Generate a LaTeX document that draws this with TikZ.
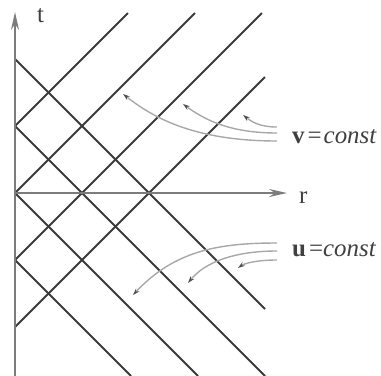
\documentclass[tikz,border=0pt]{standalone}
\usepackage{fontspec}
\setmainfont{Liberation Serif}
\usetikzlibrary{arrows.meta}
\definecolor{gridc}{HTML}{3A3A3A}
\definecolor{axisc}{HTML}{7C7C7C}
\definecolor{curvec}{HTML}{A8A8A8}
\definecolor{tipc}{HTML}{505050}
\definecolor{textc}{HTML}{404040}
\tikzset{
  gridline/.style={draw=gridc, line width=1.8bp},
  axisline/.style={draw=axisc, line width=2bp, -{Stealth[length=18bp,width=8bp,inset=6bp,color=axisc]}},
  pointer/.style={draw=curvec, line width=1.4bp, -{Stealth[length=7bp,width=4.5bp,color=tipc]}},
  lab/.style={inner sep=0pt, anchor=base west, text=textc, font=\fontsize{25}{25}\selectfont},
  biglab/.style={inner sep=0pt, anchor=base west, text=textc, font=\fontsize{25}{25}\selectfont}
}
\begin{document}
\begin{tikzpicture}[x=1bp,y=-1bp]
\useasboundingbox (0,0) rectangle (381,376);
% intercepts on the t axis
\coordinate (a2) at (15,59);
\coordinate (a1) at (15,126);
\coordinate (a0) at (15,193);
\coordinate (am1) at (15,260);
\coordinate (am2) at (15,327);
% down-right lines
\coordinate (d2) at (265,309);
\coordinate (d1) at (265,376);
\coordinate (d0) at (198,376);
\coordinate (dm1) at (131,376);
\draw[gridline] (a2) -- (d2);
\draw[gridline] (a1) -- (d1);
\draw[gridline] (a0) -- (d0);
\draw[gridline] (am1) -- (dm1);
% up-right lines
\coordinate (u1) at (128,13);
\coordinate (u0) at (195,13);
\coordinate (um1) at (262,13);
\coordinate (um2) at (265,77);
\draw[gridline] (a1) -- (u1);
\draw[gridline] (a0) -- (u0);
\draw[gridline] (am1) -- (um1);
\draw[gridline] (am2) -- (um2);
% axes
\coordinate (tbot) at (15,376);
\coordinate (ttop) at (15,12);
\coordinate (rend) at (287,193);
\draw[axisline] (tbot) -- (ttop);
\draw[axisline] (a0) -- (rend);
\node[lab] (tl) at (37,22) {t};
\node[lab] (rl) at (299,203) {r};
% v = const pointers
\coordinate (vA0) at (277,127);
\coordinate (vA1) at (243,115);
\coordinate (vB0) at (277,133);
\coordinate (vB1) at (183,104);
\coordinate (vC0) at (277,141);
\coordinate (vC1) at (123,94);
\draw[pointer] (vA0) .. controls (260,127) and (252,122) .. (vA1);
\draw[pointer] (vB0) .. controls (230,133) and (205,120) .. (vB1);
\draw[pointer] (vC0) .. controls (190,141) and (150,115) .. (vC1);
% u = const pointers
\coordinate (uD0) at (277,243);
\coordinate (uD1) at (133,295);
\coordinate (uE0) at (277,251);
\coordinate (uE1) at (188,283);
\coordinate (uF0) at (277,260);
\coordinate (uF1) at (238,268);
\draw[pointer] (uD0) .. controls (220,243) and (175,250) .. (uD1);
\draw[pointer] (uE0) .. controls (235,251) and (205,262) .. (uE1);
\draw[pointer] (uF0) .. controls (258,260) and (245,263) .. (uF1);
% labels
\node[biglab] (vl) at (292,143) {\textbf{v}\hspace{3bp}=\hspace{2bp}\textit{const}};
\node[biglab] (ul) at (292,256) {\textbf{u}\hspace{3bp}=\textit{const}};
\end{tikzpicture}
\end{document}
